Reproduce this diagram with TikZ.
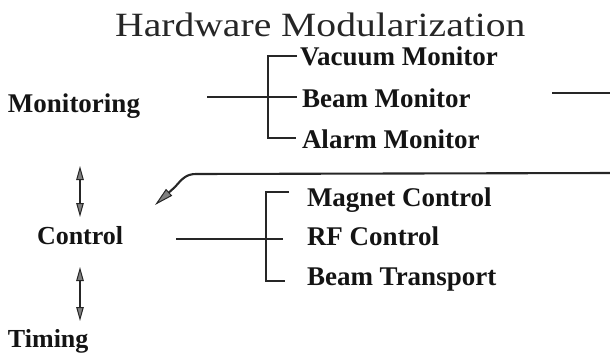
\documentclass[tikz,border=0pt]{standalone}
\usepackage{fontspec}
\setmainfont{Liberation Serif}
\usetikzlibrary{arrows.meta}
\begin{document}
\begin{tikzpicture}[x=1pt,y=-1pt,
  lbl/.style={anchor=base west,inner sep=0pt,outer sep=0pt,text=black!92,font=\bfseries\fontsize{27}{32}\selectfont},
  cat/.style={lbl,font=\bfseries\fontsize{27}{32}\selectfont},
  ln/.style={line width=2.1pt,draw=black!85},
  head/.style={Triangle[length=14pt,width=7.5pt,fill=black!50,line width=1pt]},
  dbl/.style={ln,line width=1.8pt,{Triangle[length=14pt,width=7.5pt,fill=black!50,line width=1pt]}-{Triangle[length=14pt,width=7.5pt,fill=black!50,line width=1pt]}},
]
\useasboundingbox (0,0) rectangle (610,353);
% texts
\node[anchor=base west,inner sep=0pt,text=black!85,font=\fontsize{34}{40}\selectfont] (title) at (115,37) {\scalebox{1.165}[1]{Hardware Modularization}};
\node[cat] (mon) at (8,112) {Monitoring};
\node[lbl] (vac) at (300,66) {Vacuum Monitor};
\node[lbl] (beammon) at (302,107) {Beam Monitor};
\node[lbl] (alarm) at (302,148) {Alarm Monitor};
\node[cat,font=\bfseries\fontsize{26}{32}\selectfont] (ctrl) at (37,244) {Control};
\node[cat,font=\bfseries\fontsize{26}{32}\selectfont] (timing) at (8,347) {Timing};
\node[lbl] (magnet) at (307,206) {Magnet Control};
\node[lbl] (rf) at (307,245) {RF Control};
\node[lbl] (btrans) at (307,285) {Beam Transport};
% bracket 1
\coordinate (m1a) at (207,97);
\coordinate (m1e) at (297,97);
\coordinate (b1t) at (268,56);
\coordinate (t1e) at (297,56);
\coordinate (b1b) at (268,138);
\coordinate (t3e) at (296,138);
\draw[ln] (m1a) -- (m1e);
\draw[ln] (t1e) -- (b1t) -- (b1b) -- (t3e);
% bracket 2
\coordinate (c2a) at (176,239);
\coordinate (c2e) at (283,239);
\coordinate (b2t) at (266,192);
\coordinate (t4e) at (289,192);
\coordinate (b2b) at (266,281);
\coordinate (t6e) at (285,281);
\draw[ln] (c2a) -- (c2e);
\draw[ln] (t4e) -- (b2t) -- (b2b) -- (t6e);
% right stub and feedback line
\coordinate (r1) at (552,93);
\coordinate (r2) at (610,93);
\draw[ln] (r1) -- (r2);
\coordinate (L0) at (610,173);
\coordinate (L1) at (196,174);
\coordinate (L2) at (175,187);
\coordinate (Ltip) at (155,205);
\draw[ln,-{Triangle[length=19pt,width=9pt,fill=black!50,line width=1pt]}] (L0) -- (L1) .. controls (186,174) and (182,179) .. (L2) -- (Ltip);
% vertical double arrows
\coordinate (a1t) at (80,166);
\coordinate (a1b) at (80,217);
\coordinate (a2t) at (80,267);
\coordinate (a2b) at (80,321);
\draw[dbl] (a1t) -- (a1b);
\draw[dbl] (a2t) -- (a2b);
\end{tikzpicture}
\end{document}
